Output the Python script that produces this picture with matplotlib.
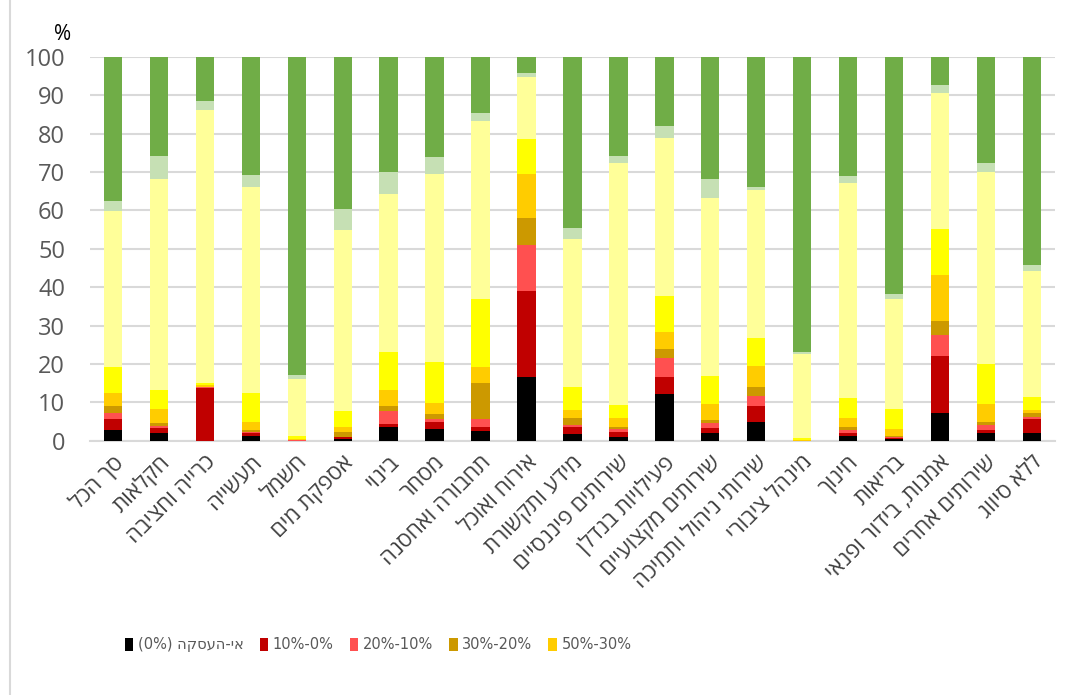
import numpy as np
import matplotlib
matplotlib.use('Agg')
import matplotlib.pyplot as plt
from matplotlib.lines import Line2D

plt.rcParams['font.family'] = ['Open Sans', 'DejaVu Sans']

# categories (logical Hebrew order)
categories = ["סך הכל", "חקלאות", "כרייה וחציבה", "תעשייה", "חשמל", "אספקת מים",
              "בינוי", "מסחר", "תחבורה ואחסנה", "אירוח ואוכל", "מידע ותקשורת",
              "שירותים פיננסיים", "פעילויות בנדלן", "שירותים מקצועיים",
              "שירותי ניהול ותמיכה", "מינהל ציבורי", "חינוך", "בריאות",
              "אמנות, בידור ופנאי", "שירותים אחרים", "ללא סיווג"]

series_names = ["אי-העסקה (0%)", "10%-0%", "20%-10%", "30%-20%", "50%-30%",
                "70%-50%", "90%-70%", "100%-90%", "100%"]
series_colors = ["#000000", "#C00000", "#FF5050", "#CC9900", "#FFCC00",
                 "#FFFF00", "#FFFF99", "#C6E0B4", "#70AD47"]

# values per series (percent), one per category
s0 = [2.8, 2.1, 0.0, 1.2, 0.0, 0.5, 3.5, 3.0, 2.6, 16.7, 1.6, 1.0, 12.2, 2.1, 4.9, 0.0, 1.2, 0.3, 7.3, 1.9, 2.1]
s1 = [2.8, 1.1, 13.8, 0.7, 0.0, 0.4, 0.8, 1.9, 1.0, 22.4, 2.0, 1.3, 4.5, 1.3, 4.0, 0.0, 0.7, 0.3, 14.8, 0.9, 3.5]
s2 = [1.7, 0.6, 0.1, 0.4, 0.1, 0.1, 3.4, 0.8, 2.0, 12.0, 0.5, 0.7, 4.9, 1.1, 2.7, 0.0, 0.9, 0.4, 5.4, 1.2, 0.5]
s3 = [1.6, 0.9, 0.2, 0.5, 0.1, 1.3, 1.4, 1.2, 9.3, 6.9, 1.7, 0.6, 2.3, 0.9, 2.4, 0.0, 0.8, 0.2, 3.8, 0.9, 1.0]
s4 = [3.4, 3.5, 0.4, 2.1, 0.3, 1.3, 4.1, 3.0, 4.4, 11.6, 2.2, 2.4, 4.4, 4.1, 5.5, 0.1, 2.4, 1.8, 11.8, 4.6, 0.9]
s5 = [7.0, 5.0, 0.4, 7.4, 0.7, 4.0, 9.9, 10.7, 17.7, 9.0, 5.9, 3.3, 9.4, 7.4, 7.3, 0.7, 5.2, 5.3, 12.0, 10.6, 3.4]
s6 = [40.6, 55.1, 71.4, 53.8, 14.9, 47.3, 41.3, 48.8, 46.3, 16.2, 38.7, 63.1, 41.2, 46.3, 38.5, 21.9, 56.0, 28.5, 35.5, 50.0, 32.8]
s7 = [2.5, 5.8, 2.2, 3.1, 1.0, 5.5, 5.5, 4.6, 2.1, 0.9, 2.7, 1.7, 3.1, 5.1, 0.9, 0.5, 1.7, 1.4, 2.0, 2.3, 1.7]
s8 = [37.6, 25.9, 11.5, 30.8, 82.9, 39.6, 30.1, 26.0, 14.6, 4.3, 44.7, 25.9, 18.0, 31.7, 33.8, 76.8, 31.1, 61.8, 7.4, 27.6, 54.1]
series = [s0, s1, s2, s3, s4, s5, s6, s7, s8]


def visual(s):
  # matplotlib has no bidi: put Hebrew in visual (left-to-right glyph) order
  if s.endswith("(0%)"):
    return "(0%) " + s[:-5][::-1]
  if any('\u0590' <= c <= '\u05ff' for c in s):
    return s[::-1]
  return s


fig = plt.figure(figsize=(10.72, 6.95), dpi=100)
ax = fig.add_axes([0.084, 0.366, 0.900, 0.552])

x = np.arange(len(categories))
bottom = np.zeros(len(categories))
handles = []
for name, vals, col in zip(series_names, series, series_colors):
  vals = np.array(vals)
  b = ax.bar(x, vals, 0.4, bottom=bottom, color=col, label=visual(name), zorder=3)
  handles.append(b)
  bottom += vals

ax.set_xlim(-0.5, len(categories) - 0.5)
ax.set_ylim(0, 100)
ax.set_yticks(np.arange(0, 101, 10))
ax.yaxis.grid(True, color='#D9D9D9', linewidth=1.5, zorder=0)
for sp in ['top', 'right', 'left']:
  ax.spines[sp].set_visible(False)
ax.spines['bottom'].set_color('#D9D9D9')
ax.spines['bottom'].set_linewidth(1.5)
ax.tick_params(axis='y', length=0, labelsize=17, labelcolor='#595959', pad=18)
ax.tick_params(axis='x', length=0, pad=8)
ax.set_xticks(x)
ax.set_xticklabels([visual(c) for c in categories], rotation=45, ha='right',
                   rotation_mode='anchor', fontsize=16, color='#404040')

fig.text(0.050, 0.943, '%', fontsize=15, color='#000000')

# only the first five entries are visible in the original legend
fig.legend(handles[:5], [visual(n) for n in series_names[:5]], loc='center left',
           bbox_to_anchor=(0.104, 0.072), ncol=5, frameon=False,
           prop={'family': ['DejaVu Sans Condensed', 'Liberation Sans Narrow', 'DejaVu Sans'],
                 'size': 10.5},
           handlelength=0.6, handleheight=1.0, handletextpad=0.3, columnspacing=1.1,
           labelcolor='#595959')

fig.add_artist(Line2D([10 / 1072, 10 / 1072], [0, 1], color='#D9D9D9', linewidth=1.5))

plt.savefig('out.png', dpi=100)
